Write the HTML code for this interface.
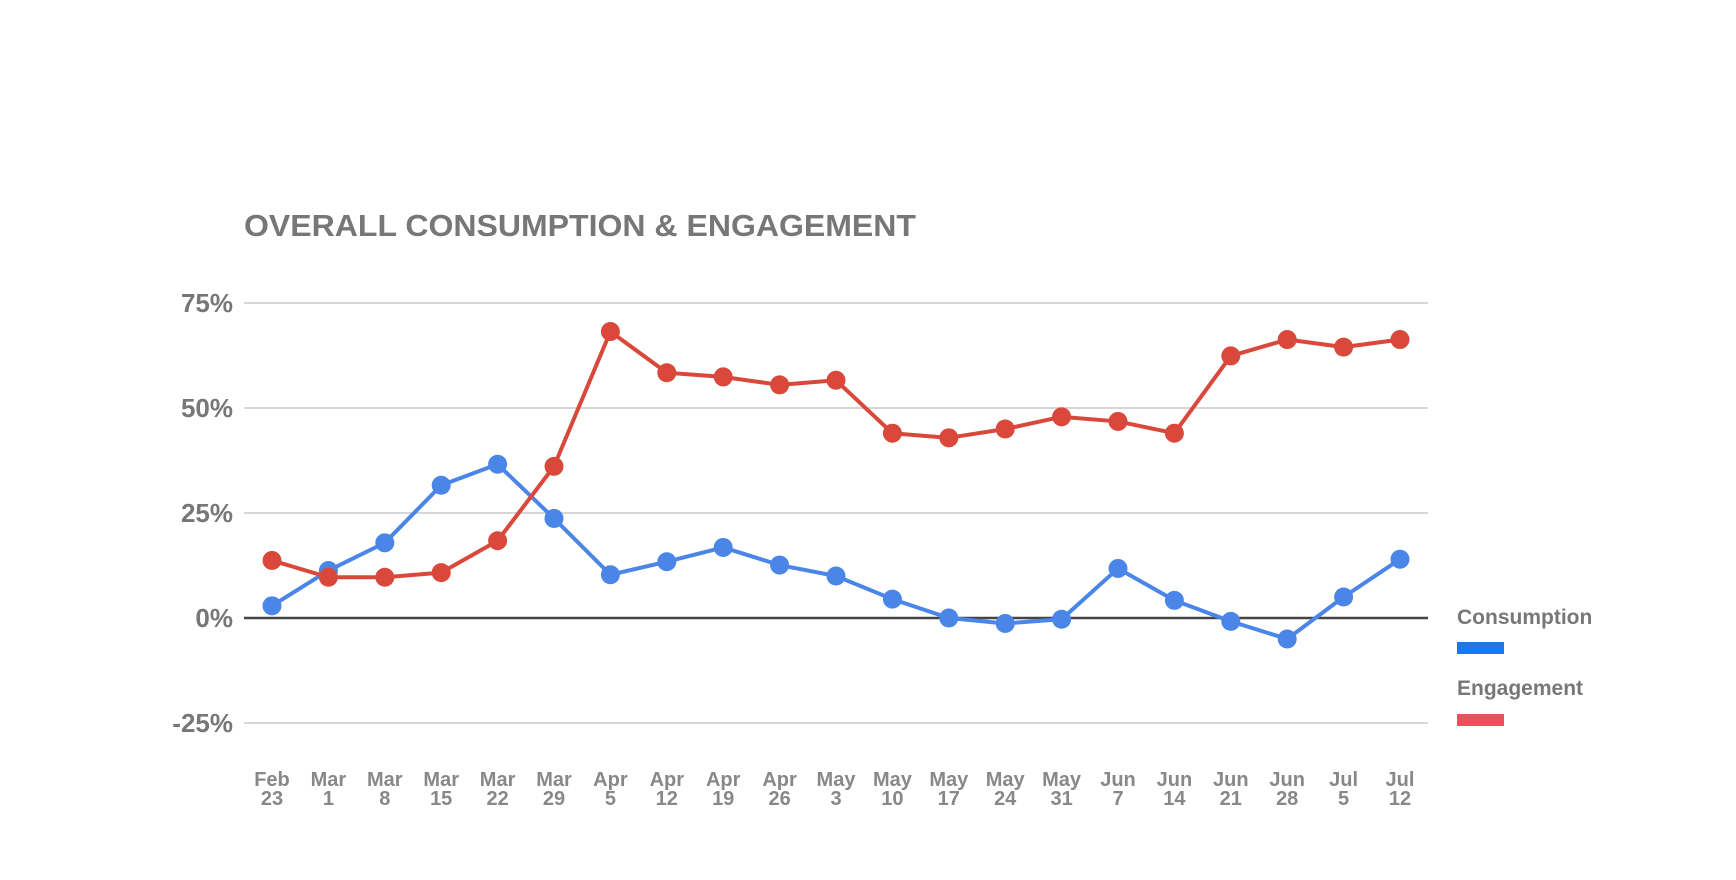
<!DOCTYPE html>
<html><head><meta charset="utf-8"><style>
html,body{margin:0;padding:0;background:#fff;}
svg{display:block;font-family:"Liberation Sans",sans-serif;}
</style></head><body>
<svg id="chart" width="1736" height="880">
<text x="244" y="236" font-size="31" font-weight="bold" fill="#777" textLength="672" lengthAdjust="spacingAndGlyphs">OVERALL CONSUMPTION &amp; ENGAGEMENT</text>
<g id="grid"></g><g id="series"></g>
<text x="1457" y="624" font-size="21" font-weight="bold" fill="#777">Consumption</text>
<rect x="1457" y="642" width="47" height="12" fill="#1f77ee"/>
<text x="1457" y="695" font-size="21" font-weight="bold" fill="#777">Engagement</text>
<rect x="1457" y="714" width="47" height="12" fill="#e8505b"/>
</svg>
<script>
const categories=[["Feb","23"],["Mar","1"],["Mar","8"],["Mar","15"],["Mar","22"],["Mar","29"],["Apr","5"],["Apr","12"],["Apr","19"],["Apr","26"],["May","3"],["May","10"],["May","17"],["May","24"],["May","31"],["Jun","7"],["Jun","14"],["Jun","21"],["Jun","28"],["Jul","5"],["Jul","12"]];
const consumption=[2.9,11.3,17.9,31.6,36.6,23.7,10.3,13.4,16.8,12.6,10,4.5,0,-1.3,-0.3,11.8,4.2,-0.8,-5,5,14];
const engagement=[13.7,9.7,9.7,10.8,18.4,36.1,68.2,58.4,57.4,55.5,56.6,44,42.9,45,47.9,46.8,44,62.4,66.3,64.5,66.3];
const yTicks=[75,50,25,0,-25];
const ns="http://www.w3.org/2000/svg";
const x=i=>272+i*(1400-272)/(categories.length-1);
const y=v=>618-v*(618-303)/75;
const grid=document.getElementById('grid'),ser=document.getElementById('series');
function mk(tag,attrs,parent){const e=document.createElementNS(ns,tag);for(const k in attrs)e.setAttribute(k,attrs[k]);parent.appendChild(e);return e;}
yTicks.forEach(t=>{
 const l=mk('line',{x1:244,x2:1428,y1:y(t),y2:y(t),stroke:t===0?'#444':'#d6d6d6','stroke-width':t===0?2.5:2},grid);
 
 
 const tx=mk('text',{x:233,y:y(t)+9,'text-anchor':'end','font-size':26,'font-weight':'bold',fill:'#777'},grid);
 tx.textContent=t+'%';
 
 
});
categories.forEach((c,i)=>{
 const tx=mk('text',{x:x(i),'text-anchor':'middle','font-size':20,'font-weight':'bold',fill:'#888'},grid);
 
 
 const a=mk('tspan',{x:x(i),y:786},tx);a.textContent=c[0];
 const b=mk('tspan',{x:x(i),y:805},tx);b.textContent=c[1];
});
function draw(data,color,name){
 const p=mk('polyline',{points:data.map((v,i)=>x(i)+','+y(v)).join(' '),fill:'none',stroke:color,'stroke-width':4,'stroke-linejoin':'round'},ser);
 
 
 data.forEach((v,i)=>{
  const c=mk('circle',{cx:x(i),cy:y(v),r:9.5,fill:color},ser);
  
  
 });
}
draw(consumption,'#4a86e8','consumption');
draw(engagement,'#d9483b','engagement');
</script>
</body></html>
